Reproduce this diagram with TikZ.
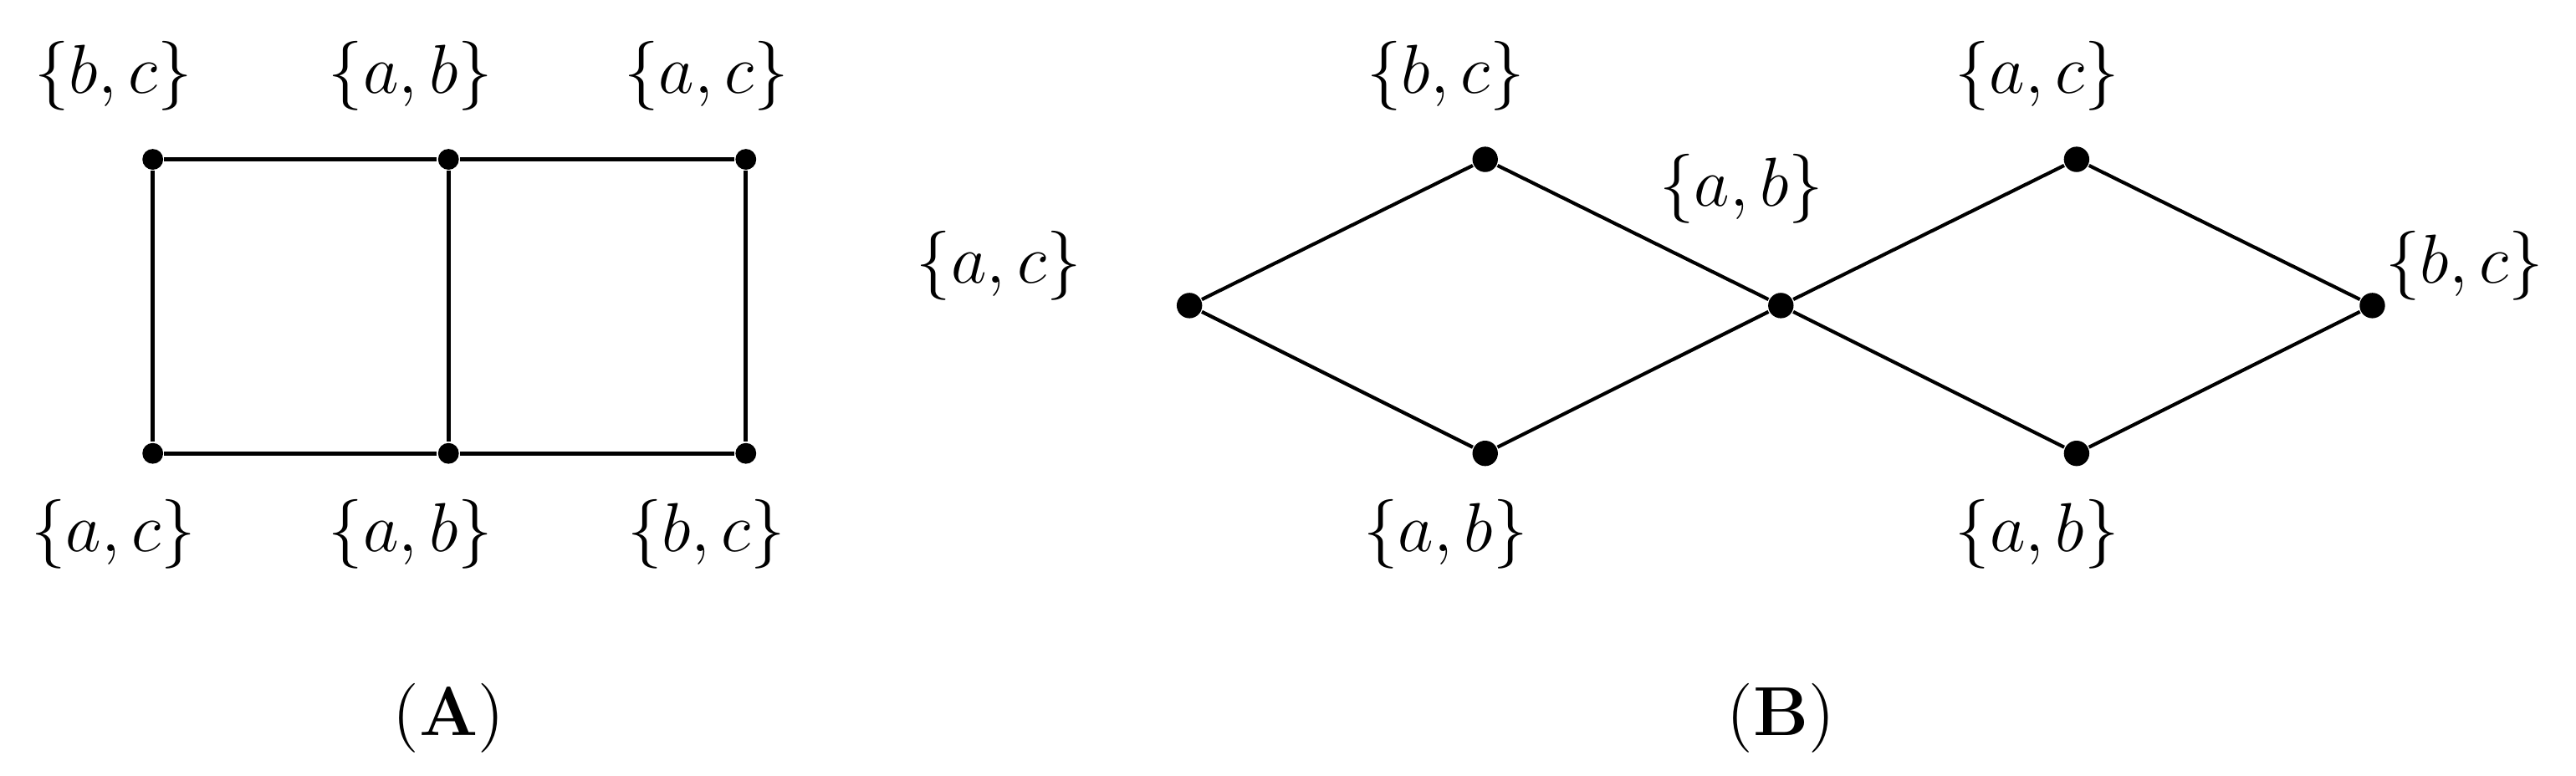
\documentclass[tikz,border=0pt]{standalone}
\begin{document}
\begin{tikzpicture}[
		dot/.style={circle, fill=black, inner sep=0pt, minimum size=3.6pt},
		edge/.style={line width=0.7pt},
		lab/.style={font=\large}]
		\useasboundingbox (0,0) rectangle (15.68,-4.72);

		% graph (A)
		\node[dot] (a1) at (0.93,-0.97) {};
		\node[dot] (a2) at (2.73,-0.97) {};
		\node[dot] (a3) at (4.54,-0.97) {};
		\node[dot] (a4) at (0.93,-2.76) {};
		\node[dot] (a5) at (2.73,-2.76) {};
		\node[dot] (a6) at (4.54,-2.76) {};
		\draw[edge] (a1) -- (a2) -- (a3) -- (a6) -- (a5) -- (a4) -- (a1);
		\draw[edge] (a2) -- (a5);

		\node[lab] (la1) at (0.69,-0.46) {$\{b,c\}$};
		\node[lab] (la2) at (2.50,-0.46) {$\{a,b\}$};
		\node[lab] (la3) at (4.30,-0.46) {$\{a,c\}$};
		\node[lab] (la4) at (0.69,-3.25) {$\{a,c\}$};
		\node[lab] (la5) at (2.50,-3.25) {$\{a,b\}$};
		\node[lab] (la6) at (4.30,-3.25) {$\{b,c\}$};
		\node[lab] (ta) at (2.73,-4.37) {(\textbf{A})};

		% graph (B)
		\begin{scope}[dot/.append style={minimum size=4.4pt}]
		\node[dot] (b1) at (7.24,-1.86) {};
		\node[dot] (b2) at (9.04,-0.97) {};
		\node[dot] (b3) at (9.04,-2.76) {};
		\node[dot] (b4) at (10.84,-1.86) {};
		\node[dot] (b5) at (12.64,-0.97) {};
		\node[dot] (b6) at (12.64,-2.76) {};
		\node[dot] (b7) at (14.44,-1.86) {};
		\end{scope}
		\draw[edge, line width=0.6pt] (b1) -- (b2) -- (b4) -- (b3) -- (b1);
		\draw[edge, line width=0.6pt] (b4) -- (b5) -- (b7) -- (b6) -- (b4);

		\node[lab] (lb1) at (6.08,-1.62) {$\{a,c\}$};
		\node[lab] (lb2) at (8.80,-0.46) {$\{b,c\}$};
		\node[lab] (lb3) at (8.80,-3.25) {$\{a,b\}$};
		\node[lab] (lb4) at (10.60,-1.15) {$\{a,b\}$};
		\node[lab] (lb5) at (12.40,-0.46) {$\{a,c\}$};
		\node[lab] (lb6) at (12.40,-3.25) {$\{a,b\}$};
		\node[lab] (lb7) at (15.00,-1.62) {$\{b,c\}$};
		\node[lab] (tb) at (10.84,-4.37) {(\textbf{B})};
	\end{tikzpicture}
\end{document}
